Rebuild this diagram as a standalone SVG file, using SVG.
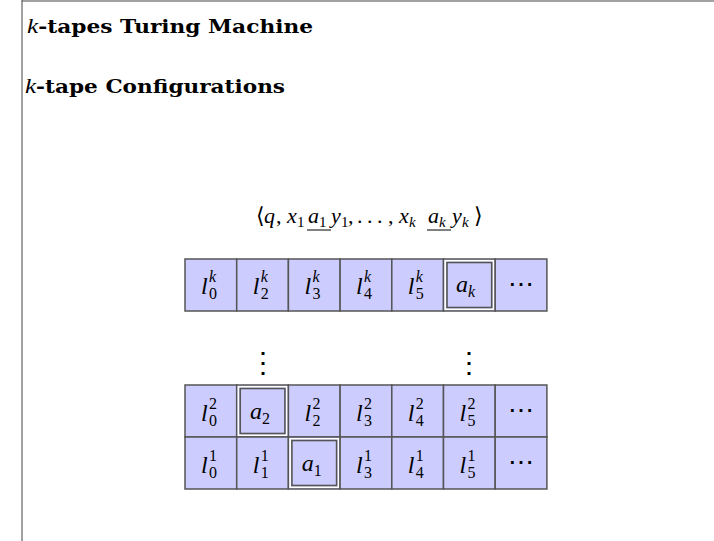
<svg xmlns="http://www.w3.org/2000/svg" width="714" height="541" viewBox="0 0 714 541">
<style>
.frame{stroke:#444;stroke-width:1;fill:none}
.title{font-family:"DejaVu Serif",serif;font-weight:bold;font-size:19px;fill:#000}
.it{font-style:italic;font-weight:normal;font-family:"Liberation Serif",serif;font-size:22px}
.m{font-family:"Liberation Serif",serif;font-style:italic;font-size:24px;fill:#000}
.f{font-family:"Liberation Serif",serif;font-style:italic;font-size:22px;fill:#000}
.s{font-size:16px}
.fs{font-size:15px}
.r{font-style:normal}
.cell{fill:#ccccff;stroke:#555;stroke-width:1.5}
.hw{fill:none;stroke:#fff;stroke-width:1.6}
.hd{fill:none;stroke:#555;stroke-width:1.6}
.dots{font-family:"DejaVu Serif",serif;font-size:26px;fill:#000}
.vd{font-family:"DejaVu Serif",serif;font-size:28px;fill:#000}
.ul{stroke:#000;stroke-width:1}
</style>
<g id="frame">
<line class="frame" x1="22" y1="0" x2="22" y2="541"/>
<line class="frame" x1="22" y1="1" x2="714" y2="1"/>
</g>
<text class="title" x="27" y="33" textLength="286" lengthAdjust="spacingAndGlyphs"><tspan class="it">k</tspan>-tapes Turing Machine</text>
<text class="title" x="25" y="93" textLength="260" lengthAdjust="spacingAndGlyphs"><tspan class="it">k</tspan>-tape Configurations</text>
<g id="formula">
<text class="f" y="223"><tspan class="r" x="256">⟨</tspan><tspan x="264">q</tspan><tspan class="r" x="276">,</tspan><tspan x="287">x</tspan><tspan class="fs r" x="297" dy="4">1</tspan><tspan x="308" dy="-4">a</tspan><tspan class="fs r" x="319" dy="4">1</tspan><tspan x="331" dy="-4">y</tspan><tspan class="fs r" x="341" dy="4">1</tspan><tspan class="r" x="348" dy="-4">,</tspan><tspan class="r" x="357">.</tspan><tspan class="r" x="367">.</tspan><tspan class="r" x="377">.</tspan><tspan class="r" x="388">,</tspan><tspan x="399">x</tspan><tspan class="fs" x="409" dy="4">k</tspan><tspan x="428" dy="-4">a</tspan><tspan class="fs" x="439" dy="4">k</tspan><tspan x="452" dy="-4">y</tspan><tspan class="fs" x="462" dy="4">k</tspan><tspan class="r" x="474" dy="-4">⟩</tspan></text>
<line class="ul" x1="307" y1="230" x2="331" y2="230"/>
<line class="ul" x1="427" y1="230" x2="451" y2="230"/>
</g>
<g id="tape-k">
<g id="k0"><rect class="cell" x="185" y="259" width="51.7" height="52"/><text class="m" x="201" y="294">l<tspan class="s" x="209" dy="-12">k</tspan><tspan class="s r" x="209" dy="17">0</tspan></text></g>
<g id="k2"><rect class="cell" x="236.7" y="259" width="51.7" height="52"/><text class="m" x="252.7" y="294">l<tspan class="s" x="260.7" dy="-12">k</tspan><tspan class="s r" x="260.7" dy="17">2</tspan></text></g>
<g id="k3"><rect class="cell" x="288.4" y="259" width="51.7" height="52"/><text class="m" x="304.4" y="294">l<tspan class="s" x="312.4" dy="-12">k</tspan><tspan class="s r" x="312.4" dy="17">3</tspan></text></g>
<g id="k4"><rect class="cell" x="340.1" y="259" width="51.7" height="52"/><text class="m" x="356.1" y="294">l<tspan class="s" x="364.1" dy="-12">k</tspan><tspan class="s r" x="364.1" dy="17">4</tspan></text></g>
<g id="k5"><rect class="cell" x="391.8" y="259" width="51.7" height="52"/><text class="m" x="407.8" y="294">l<tspan class="s" x="415.8" dy="-12">k</tspan><tspan class="s r" x="415.8" dy="17">5</tspan></text></g>
<g id="kh"><rect class="cell" x="443.5" y="259" width="51.7" height="52"/><rect class="hw" x="445.3" y="260.8" width="48.1" height="48.4"/><rect class="hd" x="447" y="262.5" width="44.7" height="45"/><text class="m" x="456" y="292">a<tspan class="s" dy="5">k</tspan></text></g>
<g id="kd"><rect class="cell" x="495.2" y="259" width="51.7" height="52"/><text class="dots" x="521" y="293" text-anchor="middle">⋯</text></g>
</g>
<g id="vdots">
<text class="vd" x="262.5" y="372" text-anchor="middle">⋮</text>
<text class="vd" x="469.3" y="372" text-anchor="middle">⋮</text>
</g>
<g id="tape-2">
<g id="t2c0"><rect class="cell" x="185" y="385" width="51.7" height="52"/><text class="m" x="201" y="421">l<tspan class="s r" x="209" dy="-12">2</tspan><tspan class="s r" x="209" dy="17">0</tspan></text></g>
<g id="t2h"><rect class="cell" x="236.7" y="385" width="51.7" height="52"/><rect class="hw" x="238.5" y="386.8" width="48.1" height="48.4"/><rect class="hd" x="240.2" y="388.5" width="44.7" height="45"/><text class="m" x="250" y="419">a<tspan class="s r" dy="5">2</tspan></text></g>
<g id="t2c2"><rect class="cell" x="288.4" y="385" width="51.7" height="52"/><text class="m" x="304.4" y="421">l<tspan class="s r" x="312.4" dy="-12">2</tspan><tspan class="s r" x="312.4" dy="17">2</tspan></text></g>
<g id="t2c3"><rect class="cell" x="340.1" y="385" width="51.7" height="52"/><text class="m" x="356.1" y="421">l<tspan class="s r" x="364.1" dy="-12">2</tspan><tspan class="s r" x="364.1" dy="17">3</tspan></text></g>
<g id="t2c4"><rect class="cell" x="391.8" y="385" width="51.7" height="52"/><text class="m" x="407.8" y="421">l<tspan class="s r" x="415.8" dy="-12">2</tspan><tspan class="s r" x="415.8" dy="17">4</tspan></text></g>
<g id="t2c5"><rect class="cell" x="443.5" y="385" width="51.7" height="52"/><text class="m" x="459.5" y="421">l<tspan class="s r" x="467.5" dy="-12">2</tspan><tspan class="s r" x="467.5" dy="17">5</tspan></text></g>
<g id="t2d"><rect class="cell" x="495.2" y="385" width="51.7" height="52"/><text class="dots" x="521" y="419" text-anchor="middle">⋯</text></g>
</g>
<g id="tape-1">
<g id="t1c0"><rect class="cell" x="185" y="437" width="51.7" height="52"/><text class="m" x="201" y="473">l<tspan class="s r" x="209" dy="-12">1</tspan><tspan class="s r" x="209" dy="17">0</tspan></text></g>
<g id="t1c1"><rect class="cell" x="236.7" y="437" width="51.7" height="52"/><text class="m" x="252.7" y="473">l<tspan class="s r" x="260.7" dy="-12">1</tspan><tspan class="s r" x="260.7" dy="17">1</tspan></text></g>
<g id="t1h"><rect class="cell" x="288.4" y="437" width="51.7" height="52"/><rect class="hw" x="290.2" y="438.8" width="48.1" height="48.4"/><rect class="hd" x="291.9" y="440.5" width="44.7" height="45"/><text class="m" x="301.7" y="471">a<tspan class="s r" dy="5">1</tspan></text></g>
<g id="t1c3"><rect class="cell" x="340.1" y="437" width="51.7" height="52"/><text class="m" x="356.1" y="473">l<tspan class="s r" x="364.1" dy="-12">1</tspan><tspan class="s r" x="364.1" dy="17">3</tspan></text></g>
<g id="t1c4"><rect class="cell" x="391.8" y="437" width="51.7" height="52"/><text class="m" x="407.8" y="473">l<tspan class="s r" x="415.8" dy="-12">1</tspan><tspan class="s r" x="415.8" dy="17">4</tspan></text></g>
<g id="t1c5"><rect class="cell" x="443.5" y="437" width="51.7" height="52"/><text class="m" x="459.5" y="473">l<tspan class="s r" x="467.5" dy="-12">1</tspan><tspan class="s r" x="467.5" dy="17">5</tspan></text></g>
<g id="t1d"><rect class="cell" x="495.2" y="437" width="51.7" height="52"/><text class="dots" x="521" y="471" text-anchor="middle">⋯</text></g>
</g>
</svg>
